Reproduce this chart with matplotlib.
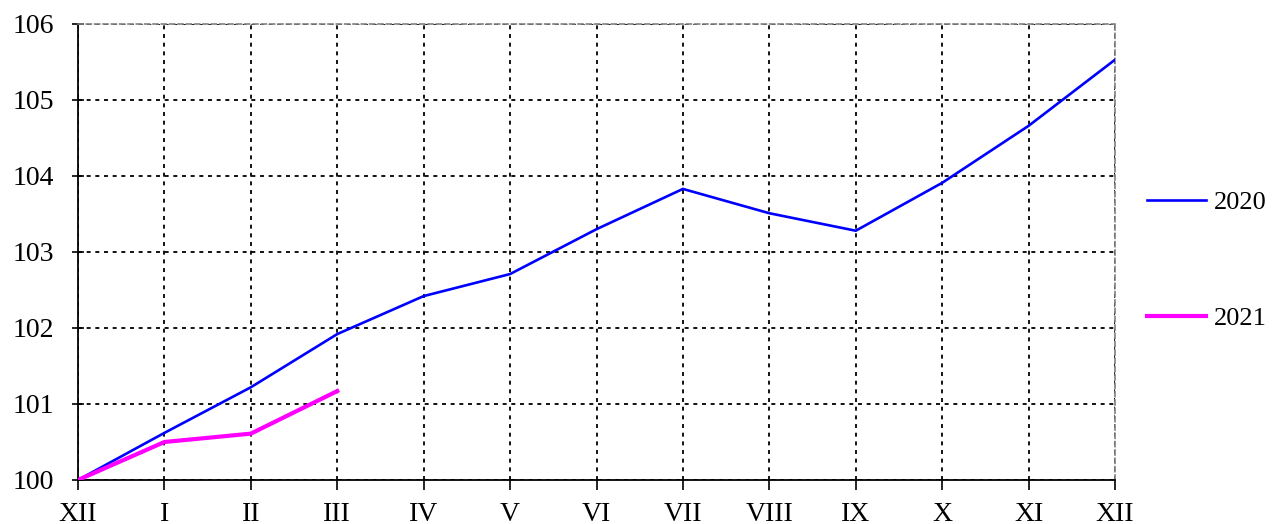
import matplotlib
matplotlib.use("Agg")
import matplotlib.pyplot as plt
from matplotlib.lines import Line2D

months = ["XII", "I", "II", "III", "IV", "V", "VI", "VII", "VIII", "IX", "X", "XI", "XII"]
series_2020 = [100.0, 100.62, 101.22, 101.92, 102.42, 102.71, 103.30, 103.83, 103.51, 103.28, 103.91, 104.66, 105.53]
series_2021 = [100.0, 100.50, 100.61, 101.17]
y_ticks = [100, 101, 102, 103, 104, 105, 106]

plt.rcParams['font.family'] = ['Liberation Serif', 'DejaVu Serif']

fig = plt.figure(figsize=(12.72, 5.24), dpi=100)
ax = fig.add_axes([78/1272, 44/524, (1115-78)/1272, (480-24)/524])

x20 = list(range(len(series_2020)))
x21 = list(range(len(series_2021)))
ax.plot(x20, series_2020, color="#0000FF", lw=1.9, solid_joinstyle='miter', zorder=3)
ax.plot(x21, series_2021, color="#FF00FF", lw=3.0, solid_joinstyle='miter', zorder=4)

ax.set_xlim(0, len(months) - 1)
ax.set_ylim(100, 106)
ax.set_xticks(range(len(months)))
ax.set_xticklabels(months)
ax.set_yticks(y_ticks)
ax.set_yticklabels([str(v) for v in y_ticks])
ax.tick_params(axis='both', labelsize=20, color='black', width=1.2)
ax.tick_params(axis='x', direction='out', length=7.5, pad=8)
ax.tick_params(axis='y', direction='inout', length=8, pad=13)

ax.grid(True, color='black', linestyle=(0, (2.2, 2.6)), linewidth=1.3)
ax.set_axisbelow(True)

for s in ['left', 'bottom']:
    ax.spines[s].set_color('black')
    ax.spines[s].set_linewidth(1.3)
for s in ['top', 'right']:
    ax.spines[s].set_color('#808080')
    ax.spines[s].set_linewidth(1.2)
    ax.spines[s].set_linestyle((0, (3, 2)))

handles = [Line2D([], [], color="#0000FF", lw=1.9), Line2D([], [], color="#FF00FF", lw=3.0)]
fig.legend(handles, ["2020", "2021"], loc='upper left', bbox_to_anchor=(1136/1272, 1 - 180/524),
           frameon=False, fontsize=19, handlelength=2.25, handletextpad=0.3, labelspacing=3.5,
           borderaxespad=0)

fig.savefig("out.png", dpi=100)
